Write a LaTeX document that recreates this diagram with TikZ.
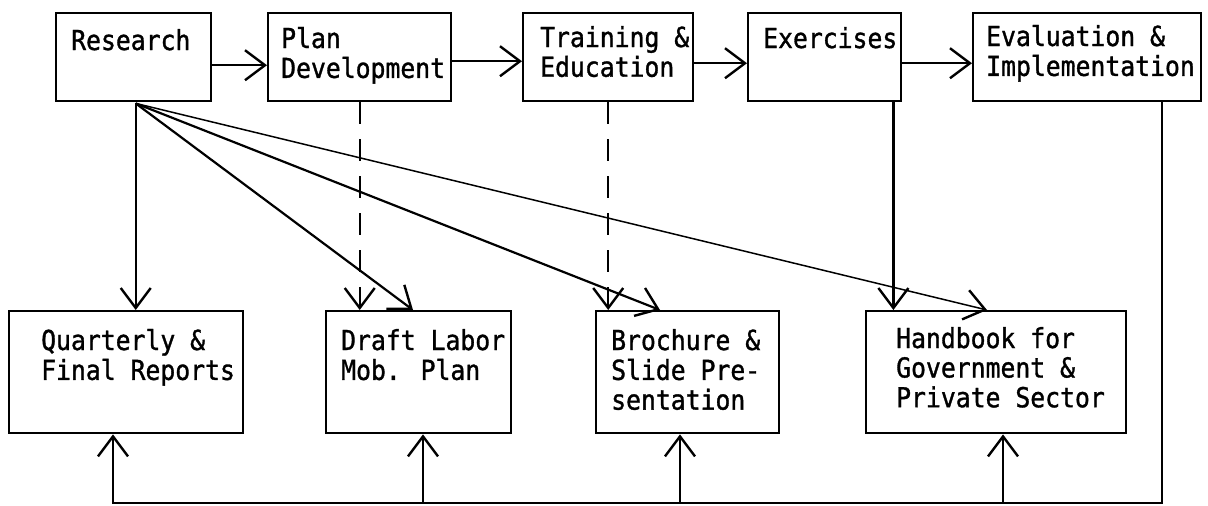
\documentclass[tikz,border=0pt]{standalone}
\usepackage{fontspec}
\newfontfamily\twfont[FakeStretch=0.9,FakeBold=1.2]{DejaVu Sans Mono}
\usetikzlibrary{arrows.meta,calc}
\newcommand\mltext[1]{\begin{tabular}[t]{@{}l@{}}#1\end{tabular}}
\begin{document}
\begin{tikzpicture}[x=1pt,y=-1pt,
  box/.style={draw,line width=2.4pt,inner sep=0pt,anchor=north west},
  lbl/.style={anchor=base west,inner sep=0pt,font=\twfont\fontsize{27.5}{29.5}\selectfont},
  line/.style={line width=2.2pt},
  conn/.style={line width=2.2pt,-{Straight Barb[length=20pt,width=30pt,line width=2.4pt]}},
  dsh/.style={conn,dash pattern=on 22pt off 15pt},
  thin conn/.style={line width=1.5pt,-{Straight Barb[length=20pt,width=30pt,line width=2.4pt]}}]
\useasboundingbox (0,0) rectangle (1208,506);
% top boxes
\node[box,minimum width=155pt,minimum height=88pt] (res) at (55,12) {};
\node[box,minimum width=183pt,minimum height=88pt] (pd) at (267,12) {};
\node[box,minimum width=170pt,minimum height=88pt] (tr) at (522,12) {};
\node[box,minimum width=153pt,minimum height=88pt] (ex) at (747,12) {};
\node[box,minimum width=228pt,minimum height=88pt] (ev) at (972,12) {};
% bottom boxes
\node[box,minimum width=234pt,minimum height=122pt] (qr) at (8,310) {};
\node[box,minimum width=185pt,minimum height=122pt] (dr) at (325,310) {};
\node[box,minimum width=183pt,minimum height=122pt] (br) at (595,310) {};
\node[box,minimum width=260pt,minimum height=122pt] (hb) at (865,310) {};
% labels
\node[lbl] (tres) at (71,50) {Research};
\node[lbl] (tpd) at (281,48) {\mltext{Plan\\Development}};
\node[lbl] (ttr) at (540,47) {\mltext{Training \&\\Education}};
\node[lbl] (tex) at (763,48) {Exercises};
\node[lbl] (tev) at (986,46) {\mltext{Evaluation \&\\Implementation}};
\node[lbl] (tqr) at (41,350) {\mltext{Quarterly \&\\Final Reports}};
\node[lbl] (tdr) at (341,350) {\mltext{Draft Labor\\Mob. Plan}};
\node[lbl] (tbr) at (611,350) {\mltext{Brochure \&\\Slide Pre-\\sentation}};
\node[lbl] (thb) at (896,348) {\mltext{Handbook for\\Government \&\\Private Sector}};
% top chain
\draw[conn] ([yshift=-8pt]res.east) -- ([yshift=-8pt]res.east -| pd.west);
\draw[conn] ([yshift=-4pt]pd.east) -- ([yshift=-4pt]pd.east -| tr.west);
\draw[conn] ([yshift=-6pt]tr.east) -- ([yshift=-6pt]tr.east -| ex.west);
\draw[conn] ([yshift=-6pt]ex.east) -- ([yshift=-6pt]ex.east -| ev.west);
% fan from Research
\coordinate (ro) at ($(res.south)+(2,1)$);
\coordinate (tdr1) at ($(dr.north west)+(88,0)$);
\coordinate (tbr1) at ($(br.north west)+(65,0)$);
\coordinate (thb1) at ($(hb.north west)+(122,0)$);
\draw[conn] (ro) -- (ro |- qr.north);
\draw[conn] (ro) -- (tdr1);
\draw[conn] (ro) -- (tbr1);
\draw[thin conn] (ro) -- (thb1);
% vertical links
\draw[dsh] (pd.south) -- (pd.south |- dr.north);
\draw[dsh] (tr.south) -- (tr.south |- br.north);
\coordinate (exo) at ($(ex.south east)+(-9,0)$);
\draw[conn] (exo) -- (exo |- hb.north);
% feedback
\coordinate (bot) at (0,503);
\coordinate (e1) at ($(ev.south west)+(190,0)$);
\coordinate (q1) at ($(qr.south west)+(105,0)$);
\coordinate (d1) at ($(dr.south west)+(98,0)$);
\coordinate (b1) at ($(br.south west)+(85,0)$);
\coordinate (h1) at ($(hb.south west)+(138,0)$);
\draw[conn] (e1) |- (q1 |- bot) -- (q1);
\draw[conn] (d1 |- bot) -- (d1);
\draw[conn] (b1 |- bot) -- (b1);
\draw[conn] (h1 |- bot) -- (h1);
\end{tikzpicture}
\end{document}
